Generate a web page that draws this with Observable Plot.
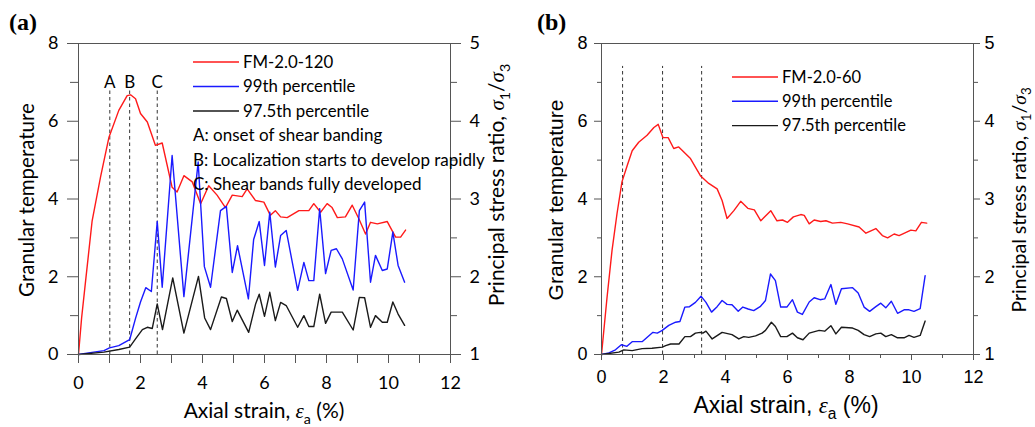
<!DOCTYPE html>
<html><head><meta charset="utf-8">
<script src="https://cdn.jsdelivr.net/npm/d3@7"></script>
<script src="https://cdn.jsdelivr.net/npm/@observablehq/plot@0.6"></script>
<style>
body{margin:0;background:#fff;}
#wrap{position:relative;width:1035px;height:427px;overflow:hidden;background:#fff;}
#pa{position:absolute;left:0;top:0;}
#pb{position:absolute;left:520px;top:0;}
</style></head><body>
<div id="wrap"><div id="pa"></div><div id="pb"></div></div>
<script>
// ---------- data ----------
// Panel (a): FM-2.0-120 principal stress ratio (right axis)
const redA_strain = [0,0.10,0.23,0.44,0.71,0.98,1.30,1.57,1.68,1.84,2.00,2.22,2.48,2.70,3.02,3.18,3.40,3.67,3.94,4.20,4.47,4.74,4.96,5.28,5.44,5.71,5.98,6.19,6.35,6.52,6.73,7.11,7.43,7.59,7.81,8.02,8.18,8.35,8.61,8.83,9.04,9.26,9.42,9.64,9.96,10.23,10.39,10.55];
const redA_ratio = [1.00,1.47,1.95,2.72,3.28,3.79,4.14,4.33,4.34,4.29,4.10,3.99,3.69,3.72,3.15,3.09,3.30,3.22,2.94,3.17,3.05,2.89,3.05,3.03,3.13,2.98,2.96,2.79,2.85,2.77,2.76,2.85,2.85,2.94,2.83,2.94,2.89,2.76,2.77,2.92,2.75,2.55,2.70,2.68,2.71,2.51,2.51,2.60];
// Panel (a): 99th percentile granular temperature
const blueA_strain = [0,0.49,0.82,1.00,1.30,1.65,1.84,2.00,2.17,2.35,2.54,2.70,3.02,3.40,3.86,4.06,4.26,4.58,4.77,4.96,5.13,5.48,5.65,5.83,6.00,6.17,6.35,6.52,6.70,7.07,7.27,7.43,7.59,7.78,7.97,8.15,8.32,8.51,8.86,9.06,9.23,9.42,9.58,9.80,9.96,10.14,10.31,10.52];
const blueA_temp = [0,0.06,0.10,0.17,0.23,0.38,0.93,1.35,1.72,1.62,3.42,1.73,5.12,1.49,4.95,2.26,1.73,3.70,3.81,2.11,2.80,1.43,2.96,3.42,2.29,3.66,2.25,3.06,3.19,1.65,2.37,1.90,1.90,3.75,2.08,2.68,2.72,2.46,1.66,3.70,3.92,1.86,2.55,2.16,2.20,3.15,2.29,1.86];
// Panel (a): 97.5th percentile granular temperature
const blackA_strain = [0,0.82,1.30,1.65,1.84,2.06,2.22,2.38,2.54,2.71,3.04,3.40,3.87,4.07,4.26,4.61,4.77,4.96,5.12,5.49,5.71,5.83,6.00,6.17,6.35,6.52,6.70,7.07,7.27,7.43,7.59,7.78,7.97,8.15,8.51,8.86,9.06,9.23,9.42,9.58,9.80,9.96,10.14,10.31,10.52];
const blackA_temp = [0,0.06,0.13,0.19,0.40,0.64,0.70,0.67,1.30,0.64,1.97,0.55,2.01,0.94,0.64,1.48,1.44,0.85,1.14,0.57,1.29,1.55,0.98,1.60,0.87,1.34,1.26,0.70,1.00,0.72,0.72,1.55,0.80,1.09,1.09,0.63,1.47,1.46,0.70,1.00,0.83,0.83,1.35,1.04,0.75];
const markersA = [1.01, 1.65, 2.54];
const markerLabelsA = ["A", "B", "C"];

// Panel (b): FM-2.0-60 principal stress ratio (right axis)
const redB_strain = [0,0.18,0.34,0.50,0.66,0.83,0.99,1.20,1.47,1.69,1.83,1.98,2.15,2.33,2.49,2.87,3.19,3.46,3.73,3.89,4.05,4.27,4.49,4.72,4.93,5.14,5.46,5.66,5.84,6.00,6.19,6.43,6.54,6.70,6.86,7.07,7.24,7.45,7.72,7.94,8.31,8.53,8.85,9.06,9.23,9.44,9.60,9.98,10.14,10.32,10.49];
const redB_ratio = [1.00,1.74,2.34,2.81,3.22,3.43,3.62,3.73,3.82,3.92,3.96,3.79,3.79,3.65,3.67,3.52,3.30,3.20,3.13,2.98,2.75,2.85,2.97,2.88,2.86,2.72,2.85,2.72,2.73,2.70,2.77,2.80,2.79,2.68,2.73,2.71,2.72,2.69,2.70,2.68,2.64,2.56,2.62,2.53,2.50,2.55,2.53,2.60,2.59,2.70,2.69];
const blueB_strain = [0,0.24,0.45,0.64,0.82,0.99,1.31,1.66,1.80,1.96,2.17,2.39,2.53,2.69,2.84,3.03,3.21,3.37,3.55,3.73,3.89,4.05,4.21,4.41,4.56,4.73,4.91,5.13,5.29,5.45,5.61,5.78,5.98,6.16,6.32,6.48,6.70,6.86,7.05,7.20,7.40,7.56,7.74,8.10,8.28,8.47,8.65,8.85,9.01,9.17,9.35,9.55,9.76,9.92,10.08,10.28,10.44];
const blueB_temp = [0,0.04,0.12,0.25,0.21,0.33,0.33,0.57,0.55,0.62,0.75,0.83,0.85,1.22,1.23,1.34,1.50,1.34,1.09,1.23,1.39,1.29,1.28,1.11,1.22,1.17,1.13,1.24,1.39,2.07,1.90,1.22,1.22,1.41,1.09,1.03,1.35,1.46,1.41,1.43,1.80,1.29,1.69,1.72,1.58,1.22,1.11,1.23,1.32,1.20,1.37,1.06,1.15,1.15,1.11,1.18,2.03];
const blackB_strain = [0,0.56,0.72,0.99,1.31,1.63,1.96,2.07,2.23,2.50,2.69,2.87,3.03,3.19,3.27,3.37,3.57,3.89,4.21,4.43,4.59,4.75,4.97,5.18,5.29,5.48,5.61,5.78,5.98,6.16,6.32,6.50,6.70,7.02,7.20,7.40,7.56,7.74,8.10,8.28,8.47,8.65,8.85,9.01,9.17,9.35,9.55,9.76,9.92,10.08,10.28,10.44];
const blackB_temp = [0,0.06,0.12,0.10,0.15,0.16,0.19,0.23,0.27,0.27,0.46,0.46,0.55,0.57,0.55,0.60,0.40,0.57,0.51,0.40,0.46,0.44,0.48,0.55,0.62,0.83,0.72,0.46,0.46,0.55,0.43,0.38,0.55,0.62,0.60,0.74,0.53,0.70,0.68,0.62,0.51,0.46,0.53,0.55,0.46,0.51,0.43,0.43,0.49,0.44,0.49,0.86];
const markersB = [0.68, 1.97, 3.23];

// ticks
const xMajor = [0, 2, 4, 6, 8, 10, 12];
const xMinor = [1, 3, 5, 7, 9, 11];
const yMajor = [0, 2, 4, 6, 8];
const yMinor = [1, 3, 5, 7];
const rMajor = [1, 2, 3, 4, 5];
const rMinor = [1.5, 2.5, 3.5, 4.5];

// legend / annotation texts
const legendA = ["FM-2.0-120", "99th percentile", "97.5th percentile"];
const notesA = ["A: onset of shear banding", "B: Localization starts to develop rapidly", "C: Shear bands fully developed"];
const legendB = ["FM-2.0-60", "99th percentile", "97.5th percentile"];

// ---------- helpers ----------
const RED = "#ff1a1a", BLUE = "#1a1aff", BLACK = "#1a1a1a", AX = "#555";
const Y_PER_RATIO = 2; // ratio 1..5 maps onto temperature 0..8
const toY = r => (r - 1) * Y_PER_RATIO;
const zip = (xs, ys, key) => xs.map((x, i) => ({x, [key]: ys[i]}));

function rich(g, o) {
  const t = g.append("text")
    .attr("transform", `translate(${o.x},${o.y})` + (o.rotate ? ` rotate(${o.rotate})` : ""))
    .attr("font-family", o.family).attr("font-size", o.size)
    .attr("text-anchor", o.anchor || "start").attr("fill", "black");
  if (o.weight) t.attr("font-weight", o.weight);
  let shifted = false;
  for (const [s, st] of o.parts) {
    const ts = t.append("tspan").text(s);
    if (st.includes("i")) ts.attr("font-style", "italic").attr("font-family", "Liberation Serif");
    if (st.includes("sub")) {
      ts.attr("font-size", o.size * 0.68).attr("dy", o.size * 0.28);
      shifted = true;
    } else if (shifted) {
      ts.attr("dy", -o.size * 0.28);
      shifted = false;
    }
  }
  return t;
}

function panel(cfg) {
  const chart = Plot.plot({
    width: cfg.width, height: 427,
    marginLeft: cfg.ml, marginRight: cfg.mr, marginTop: 43, marginBottom: 73,
    x: {domain: [0, 12]},
    y: {domain: [0, 8]},
    style: {fontFamily: cfg.tickFont, fontSize: cfg.tickFs + "px", background: "white", color: "black", overflow: "visible"},
    marks: [
      Plot.ruleX(cfg.markers, {x: d => d, y1: 0, y2: cfg.dashTop, stroke: "#333", strokeWidth: 1, strokeDasharray: "3.5,3"}),
      Plot.line(cfg.red, {x: "x", y: d => toY(d.r), stroke: RED, strokeWidth: 1.4}),
      Plot.line(cfg.blue, {x: "x", y: "t", stroke: BLUE, strokeWidth: 1.4}),
      Plot.line(cfg.black, {x: "x", y: "t", stroke: BLACK, strokeWidth: 1.4}),
      Plot.axisX({ticks: xMajor, tickSize: cfg.xt, tickPadding: cfg.xpad, label: null, stroke: AX, fill: "black"}),
      Plot.axisX({ticks: xMinor, tickSize: cfg.xtm, tickFormat: () => "", label: null, stroke: AX}),
      Plot.axisY({ticks: yMajor, tickSize: cfg.yt, tickPadding: cfg.ypad, label: null, stroke: AX, fill: "black"}),
      Plot.axisY({ticks: yMinor, tickSize: cfg.ytm, tickFormat: () => "", label: null, stroke: AX}),
      Plot.axisY({anchor: "right", ticks: rMajor.map(toY), tickFormat: d => String(d / Y_PER_RATIO + 1), tickSize: cfg.rt, tickPadding: cfg.rpad, label: null, stroke: AX, fill: "black"}),
      Plot.axisY({anchor: "right", ticks: rMinor.map(toY), tickSize: cfg.rtm, tickFormat: () => "", label: null, stroke: AX}),
      Plot.frame({stroke: AX}),
      cfg.letters ? Plot.text(cfg.markers, {x: d => d, y: cfg.letterY, text: (d, i) => cfg.letters[i], fontSize: cfg.noteFs, fontFamily: cfg.noteFont, fill: "black"}) : null
    ]
  });
  const svg = d3.select(chart);
  const g = svg.append("g").attr("text-anchor", "start");
  const x0 = cfg.ml, x1 = cfg.width - cfg.mr;

  // panel tag
  rich(g, {x: cfg.tagX, y: 30, size: 24, family: "Liberation Serif", weight: "bold", parts: [[cfg.tag, ""]]});
  // y title (left)
  rich(g, {x: cfg.ylX, y: cfg.ylY, rotate: -90, anchor: "middle", size: cfg.ylFs, family: cfg.titleFont, parts: [["Granular temperature", ""]]});
  // right title
  rich(g, {x: cfg.rlX, y: cfg.rlY, rotate: -90, anchor: "middle", size: cfg.rlFs, family: cfg.rtitleFont,
    parts: [["Principal stress ratio, ", ""], ["σ", "i"], ["1", "sub"], ["/", ""], ["σ", "i"], ["3", "sub"]]});
  // x title
  rich(g, {x: (x0 + x1) / 2 + cfg.xlDx, y: cfg.xlY, anchor: "middle", size: cfg.xlFs, family: cfg.xtitleFont,
    parts: [["Axial strain, ", ""], ["ε", "i"], ["a", "sub"], [" (%)", ""]]});

  // legend
  const cols = [RED, BLUE, BLACK];
  cfg.legend.forEach((s, i) => {
    const y = cfg.legY + i * cfg.legStep;
    g.append("line").attr("x1", cfg.legX1).attr("x2", cfg.legX2).attr("y1", y).attr("y2", y)
      .attr("stroke", cols[i]).attr("stroke-width", 1.4);
    g.append("text").attr("x", cfg.legX2 + 4).attr("y", y).attr("dy", "0.35em").attr("text-anchor", "start")
      .attr("font-family", cfg.noteFont).attr("font-size", cfg.legFs).attr("fill", "black").text(s);
  });
  (cfg.notes || []).forEach((s, i) => {
    const y = cfg.legY + (i + 3) * cfg.legStep;
    g.append("text").attr("x", cfg.legX1).attr("y", y).attr("dy", "0.35em").attr("text-anchor", "start")
      .attr("font-family", cfg.noteFont).attr("font-size", cfg.noteFs).attr("fill", "black").text(s);
  });
  return chart;
}

const A = panel({
  width: 517, ml: 78, mr: 67,
  tickFont: "Lato", tickFs: 18, titleFont: "Lato", xtitleFont: "Lato", rtitleFont: "Lato", noteFont: "Lato", noteFs: 17, legFs: 16.8,
  xt: 9, xtm: 9, xpad: 13, yt: 11, ytm: 8, ypad: 9, rt: 10, rtm: 6, rpad: 9,
  red: zip(redA_strain, redA_ratio, "r"), blue: zip(blueA_strain, blueA_temp, "t"), black: zip(blackA_strain, blackA_temp, "t"),
  markers: markersA, letters: markerLabelsA, dashTop: 6.84, letterY: 7.0,
  tag: "(a)", tagX: 9,
  ylX: 34, ylY: 200, ylFs: 20.5,
  rlX: 504, rlY: 185, rlFs: 21,
  xlDx: 0, xlY: 418, xlFs: 21,
  legend: legendA, notes: notesA, legX1: 193, legX2: 239, legY: 62, legStep: 24.5
});
document.getElementById("pa").appendChild(A);

const B = panel({
  width: 515, ml: 81, mr: 62,
  tickFont: "Liberation Sans", tickFs: 18, titleFont: "Liberation Sans", xtitleFont: "Liberation Sans", rtitleFont: "Lato", noteFont: "Lato", noteFs: 16.5, legFs: 16.5,
  xt: 6, xtm: 4, xpad: 10, yt: 7, ytm: 4, ypad: 7, rt: 6, rtm: 4, rpad: 5,
  red: zip(redB_strain, redB_ratio, "r"), blue: zip(blueB_strain, blueB_temp, "t"), black: zip(blackB_strain, blackB_temp, "t"),
  markers: markersB, letters: null, dashTop: 7.41, letterY: 7.0,
  tag: "(b)", tagX: 17,
  ylX: 43, ylY: 200, ylFs: 21,
  rlX: 506, rlY: 200, rlFs: 19.5,
  xlDx: -1, xlY: 413, xlFs: 23,
  legend: legendB, notes: null, legX1: 212, legX2: 258, legY: 77, legStep: 24.3
});
document.getElementById("pb").appendChild(B);
</script>
</body></html>
